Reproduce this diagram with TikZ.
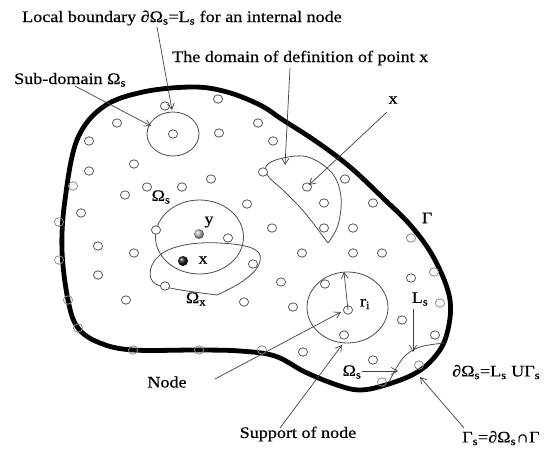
\documentclass[tikz,border=0pt]{standalone}
\usepackage{fontspec}
\setmainfont{Liberation Serif}[FakeStretch=1.13,FakeBold=0.5]
\usetikzlibrary{arrows.meta}
\begin{document}
\begin{tikzpicture}[x=1pt,y=-1pt,
  pt/.style={draw=black!65,line width=0.8pt,fill=white},
  bpt/.style={draw=black!45,line width=0.8pt},
  lbl/.style={font=\fontsize{16}{18}\selectfont,inner sep=0pt},
  arr/.style={draw=black!75,line width=0.7pt,-{Straight Barb[length=6pt,width=7pt]}},
  thin/.style={draw=black!70,line width=0.8pt}]
\useasboundingbox (0,0) rectangle (544,450);
% boundary Gamma
\draw[line width=4.8pt,line join=round]
  plot[smooth cycle,tension=0.6] coordinates {
  (68,300) (62,250) (65,200) (77,140) (103,107) (143,92) (193,87) (227,92)
  (260,105) (283,120) (317,142) (350,167) (383,198) (412,227) (435,260)
  (450,300) (446,337) (432,360) (412,375) (382,386) (359,390) (337,385)
  (305,372) (275,356) (240,351) (199,350) (133,350) (100,343) (78,328)};
% sub-domains and supports
\draw[thin] (173,134) ellipse[x radius=26,y radius=22];
\draw[thin] (199.5,237) ellipse[x radius=44,y radius=37];
\draw[thin] (347.5,307.5) ellipse[x radius=40.5,y radius=35.5];
% Omega_x
\draw[thin] plot[smooth,tension=0.6] coordinates {(217,295) (240,283) (257,268) (259,253) (240,245) (200,243) (168,250) (152,265) (153,282) (175,289) (217,295)};
% domain of definition of x
\draw[thin] plot[smooth,tension=0.6] coordinates {(328,243) (338,225) (341,197) (332,173) (308,157) (283,158) (267,165) (268,176) (285,192) (305,213) (328,243)};
% boundary local domain arc
\draw[thin] plot[smooth,tension=0.6] coordinates {(389,382) (403,358) (420,347) (445,343)};
% interior nodes
\foreach \p in {(165,106),(218,99),(117,123),(173,134),(219,133),(258,123),(273,141),
  (89,141),(134,164),(89,171),(211,179),(147,187),(182,187),(125,195),(263,172),
  (81,213),(247,204),(156,230),(228,238),(98,246),(134,253),(253,264),(98,275),
  (165,286),(126,300),(244,302),(307,187),(345,179),(324,203),(373,203),(272,228),
  (324,228),(353,228),(302,253),(353,253),(382,253),(281,282),(325,284),(293,307),
  (348,310),(344,335),(303,352),(402,320),(435,335),(373,360),(411,278)}
  \draw[pt] \p ellipse[x radius=4.6,y radius=4.2];
% boundary nodes
\foreach \p in {(73,186),(59,222),(59,260),(68,300),(78,328),(133,350),(199,350),
  (262,350),(382,382),(419,365),(440,303),(434,272),(411,238)}
  \draw[bpt] \p ellipse[x radius=4.6,y radius=4.2];
% special points
\shade[ball color=gray!55] (199,234) circle[radius=5];
\shade[ball color=black!90] (183,261) circle[radius=5];
% labels
\node[lbl,anchor=base west] (tlb) at (22,22) {Local boundary ∂Ω\textsubscript{s}=L\textsubscript{s} for an internal node};
\node[lbl,anchor=base west] (tdd) at (172,62) {The domain of definition of point x};
\node[lbl,anchor=base west] (tsd) at (14,84) {Sub-domain Ω\textsubscript{s}};
\node[lbl] (tx1) at (393,100) {x};
\node[lbl] (tG) at (427,218) {Γ};
\node[lbl] (tOs) at (161,197) {Ω\textsubscript{s}};
\node[lbl] (ty) at (209,222) {y};
\node[lbl] (tx2) at (203,260) {x};
\node[lbl] (tOx) at (196,299) {Ω\textsubscript{x}};
\node[lbl] (tri) at (365,304) {r\textsubscript{i}};
\node[lbl] (tLs) at (420,299) {L\textsubscript{s}};
\node[lbl] (tnode) at (167,382) {Node};
\node[lbl] (tsup) at (298,434) {Support of node};
\node[lbl,anchor=west] (tdO) at (452,372) {∂Ω\textsubscript{s}=L\textsubscript{s} UΓ\textsubscript{s}};
\node[lbl] (tOs2) at (352,372) {Ω\textsubscript{s}};
\node[lbl,anchor=west] (tGs) at (462,438) {Γ\textsubscript{s}=∂Ω\textsubscript{s}∩Γ};
% arrow endpoints
\coordinate (a1s) at (157,27); \coordinate (a1e) at (172,110);
\coordinate (a2s) at (75,86); \coordinate (a2e) at (151,126);
\coordinate (a3s) at (290,68); \coordinate (a3e) at (285,165);
\coordinate (a4s) at (387,112); \coordinate (a4e) at (309,185);
\coordinate (a5s) at (348,310); \coordinate (a5e) at (344,272);
\coordinate (a6s) at (215,379); \coordinate (a6e) at (341,312);
\coordinate (a7s) at (280,428); \coordinate (a7e) at (342,345);
\coordinate (a8s) at (413,309); \coordinate (a8e) at (413,352);
\coordinate (a9s) at (362,371); \coordinate (a9e) at (398,371);
\coordinate (a10s) at (464,428); \coordinate (a10e) at (420,377);
\foreach \i in {1,...,10} \draw[arr] (a\i s) -- (a\i e);
\end{tikzpicture}
\end{document}
